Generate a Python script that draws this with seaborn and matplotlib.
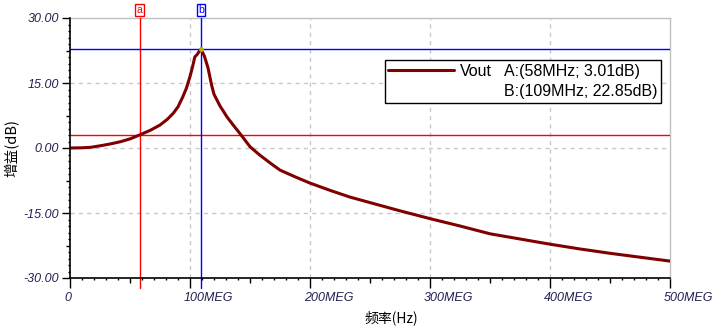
import numpy as np
import pandas as pd
import matplotlib
matplotlib.use("Agg")
import matplotlib.pyplot as plt
import matplotlib.ticker as mticker
from matplotlib.transforms import ScaledTranslation, blended_transform_factory
from matplotlib.lines import Line2D
import seaborn as sns

# ---- data ----
freq_mhz = [0, 10, 17, 25, 33, 42, 50, 58, 67, 75, 81, 86, 90, 94, 97, 100, 102,
            104, 106, 109, 112, 115, 118, 120, 125, 131, 136, 142, 150, 158, 167,
            175, 188, 200, 217, 233, 250, 275, 300, 325, 350, 375, 400, 425, 450,
            475, 500]
gain_db = [0.0, 0.05, 0.15, 0.5, 0.9, 1.45, 2.1, 3.01, 4.1, 5.3, 6.6, 8.0, 9.5,
           11.8, 13.8, 16.5, 18.6, 21.0, 21.6, 22.85, 21.2, 18.5, 14.5, 12.4, 9.7,
           7.1, 5.3, 3.2, 0.3, -1.6, -3.5, -5.1, -6.7, -8.1, -9.8, -11.3, -12.6,
           -14.5, -16.3, -18.0, -19.8, -21.0, -22.2, -23.3, -24.3, -25.2, -26.1]
marker_names = ["a", "b"]
marker_freq = [58, 109]
marker_gain = [3.01, 22.85]
marker_colors = ["#ff0000", "#0000ff"]
legend_rows = ["A:(58MHz; 3.01dB)", "B:(109MHz; 22.85dB)"]
series_name = "Vout"
xtick_vals = [0, 100, 200, 300, 400, 500]
xtick_labels = ["0", "100MEG", "200MEG", "300MEG", "400MEG", "500MEG"]
ytick_vals = [-30, -15, 0, 15, 30]
ytick_labels = ["-30.00", "-15.00", "0.00", "15.00", "30.00"]

df = pd.DataFrame({"freq": freq_mhz, "gain": gain_db})

sns.set_theme(style="white")
plt.rcParams["font.family"] = ["Liberation Sans", "Noto Sans CJK SC", "DejaVu Sans"]

W, H, DPI = 714, 336, 100
fig = plt.figure(figsize=(W / DPI, H / DPI), dpi=DPI, facecolor="white")
L, R, T, B = 70, 670, 18, 278
ax = fig.add_axes([L / W, 1 - B / H, (R - L) / W, (B - T) / H])
ax.set_facecolor("white")

CURVE = "#800000"
sns.lineplot(data=df, x="freq", y="gain", ax=ax, color=CURVE, lw=2.2, zorder=5,
             label=series_name, legend=False)

ax.set_xlim(0, 500)
ax.set_ylim(-30, 30)

# marker cursors
trans = blended_transform_factory(ax.transData, ax.transAxes)
for name, f, g, c in zip(marker_names, marker_freq, marker_gain, marker_colors):
    ax.axvline(f, ymin=-10 / 260, ymax=1.0, color=c, lw=1, zorder=4, clip_on=False)
    ax.axhline(g, color=c, lw=1, zorder=4)
    ax.text(f, 1 + 8 / 260, name, transform=trans, ha="center", va="center",
            fontsize=7.5, color=c, zorder=6,
            bbox=dict(boxstyle="square,pad=0.12", fc="white", ec=c, lw=1))
ax.plot([marker_freq[1]], [marker_gain[1]], "o", ms=2.5, color="#b8b800", zorder=7)

ax.xaxis.set_major_locator(mticker.MultipleLocator(50))
ax.xaxis.set_minor_locator(mticker.MultipleLocator(10))
ax.yaxis.set_major_locator(mticker.MultipleLocator(7.5))
ax.yaxis.set_minor_locator(mticker.MultipleLocator(1.5))

xlab_map = dict(zip(xtick_vals, xtick_labels))
ylab_map = dict(zip(ytick_vals, ytick_labels))
ax.xaxis.set_major_formatter(mticker.FuncFormatter(
    lambda v, p: xlab_map.get(int(round(v)), "") if abs(v - round(v)) < 1e-6 else ""))
ax.yaxis.set_major_formatter(mticker.FuncFormatter(
    lambda v, p: ylab_map.get(int(round(v)), "") if abs(v - round(v)) < 1e-6 else ""))

ax.grid(True, which="major", color="#c8c8c8", lw=1, ls=(0, (3, 3)))

LABCOL = "#202050"
ax.tick_params(axis="both", which="both", direction="out", color="black", width=1,
               left=True, bottom=True, top=False, right=False)
ax.tick_params(axis="y", which="major", pad=2, labelsize=9, labelcolor=LABCOL)
ax.tick_params(axis="x", which="major", pad=4, labelsize=9, labelcolor=LABCOL)
ax.tick_params(axis="both", which="minor", length=1.5)

fig.canvas.draw()
for t, v in zip(ax.yaxis.get_major_ticks(), ax.get_yticks()):
    lab = (abs(v / 15 - round(v / 15)) < 1e-6)
    t.tick1line.set_markersize(5.8 if lab else 2.9)
    t.gridline.set_visible(lab and abs(v) < 29)
    t.label1.set_fontstyle("italic")
for t, v in zip(ax.xaxis.get_major_ticks(), ax.get_xticks()):
    lab = (abs(v / 100 - round(v / 100)) < 1e-6)
    t.tick1line.set_markersize(7.2 if lab else 3.6)
    t.gridline.set_visible(lab and 0 < v < 500)
    t.label1.set_fontstyle("italic")
    t.label1.set_horizontalalignment("left")
    t.label1.set_transform(t.label1.get_transform() +
                           ScaledTranslation(-6 / DPI, 0, fig.dpi_scale_trans))

for s in ["left", "bottom"]:
    ax.spines[s].set_color("black")
    ax.spines[s].set_linewidth(1.2)
for s in ["top", "right"]:
    ax.spines[s].set_color("#c0c0c0")
    ax.spines[s].set_linewidth(1)
ax.spines["left"].set_zorder(8)
ax.spines["bottom"].set_zorder(8)

ax.set_xlabel("频率(Hz)", fontsize=10, color="black",
              family=["Noto Sans CJK SC", "DejaVu Sans"])
ax.set_ylabel("增益(dB)", fontsize=10.5, color="black",
              family=["Noto Sans CJK SC", "DejaVu Sans"])
ax.xaxis.set_label_coords((391 - L) / (R - L), (B - 318) / (B - T))
ax.yaxis.set_label_coords((12 - L) / (R - L), (B - 148) / (B - T))
ax.xaxis.label.set_va("center")
ax.yaxis.label.set_va("center")

# legend: Vout line + marker readouts
line_h = Line2D([], [], color=CURVE, lw=2.2)
blank = Line2D([], [], color="none")
hl = 4.1
tp = 0.4
leg = ax.legend(handles=[line_h, blank, blank, blank],
                labels=[series_name, "", legend_rows[0], legend_rows[1]],
                ncol=2, loc="upper right",
                bbox_to_anchor=(661 / W, 1 - 60 / H), bbox_transform=fig.transFigure,
                borderaxespad=0, fontsize=11.5, handlelength=hl, handletextpad=tp,
                columnspacing=-(hl + tp) + 0.75, labelspacing=0.35,
                frameon=True, fancybox=False, framealpha=1, facecolor="white",
                edgecolor="black", borderpad=0.22)
leg.get_frame().set_linewidth(1)
leg.set_zorder(10)
for txt in leg.get_texts():
    txt.set_color("black")

fig.savefig("out.png", dpi=DPI, facecolor="white")
